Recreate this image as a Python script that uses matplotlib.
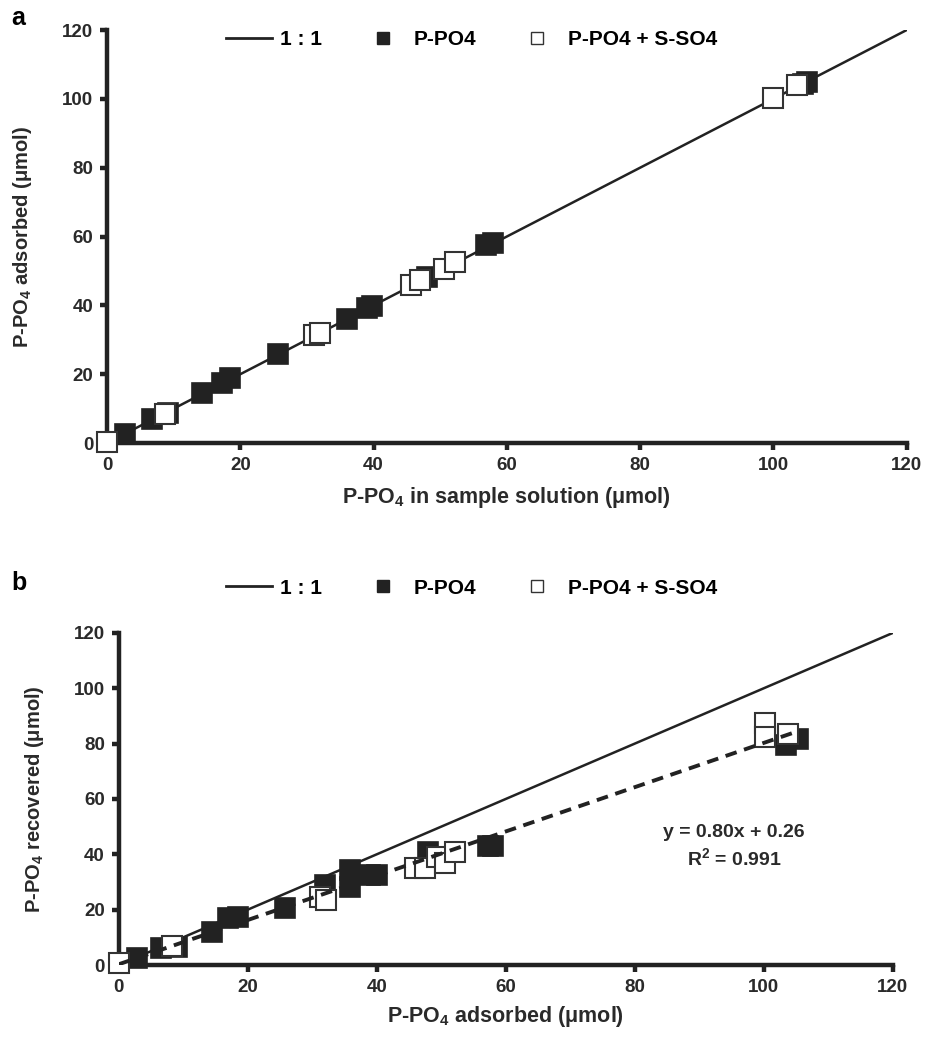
import numpy as np
import matplotlib
matplotlib.use("Agg")
import matplotlib.pyplot as plt
from matplotlib.lines import Line2D

plt.rcParams['font.family'] = ['Liberation Sans', 'DejaVu Sans']
plt.rcParams['font.weight'] = 'bold'
plt.rcParams['mathtext.fontset'] = 'custom'
plt.rcParams['mathtext.rm'] = 'Liberation Sans:bold'
plt.rcParams['mathtext.it'] = 'Liberation Sans:bold'
plt.rcParams['mathtext.bf'] = 'Liberation Sans:bold'

# ── Panel a: P-PO4 adsorbed vs P-PO4 in sample solution ──────
a_po4_x = [2.7, 6.7, 9.2, 14.2, 17.2, 18.5, 25.7, 36.0, 39.0, 39.7, 48.0, 56.8, 57.9, 104.5, 105.0]
a_po4_y = [2.6, 7.0, 8.8, 14.4, 17.4, 18.8, 26.0, 36.0, 39.2, 39.8, 48.2, 57.4, 58.0, 104.3, 105.0]
a_so4_x = [0.0, 8.7, 31.0, 32.0, 45.6, 47.0, 50.5, 52.2, 100.0, 103.5]
a_so4_y = [0.2, 8.5, 31.5, 32.0, 45.8, 47.4, 50.7, 52.6, 100.3, 103.9]

# ── Panel b: P-PO4 recovered vs P-PO4 adsorbed ───────────────
b_po4_x = [2.8, 6.6, 9.0, 14.4, 17.0, 18.5, 25.8, 32.0, 35.9, 35.9, 39.0, 40.0, 48.0, 57.3, 58.0, 103.5, 105.3]
b_po4_y = [2.4, 6.0, 6.5, 11.8, 16.9, 17.4, 20.5, 28.9, 34.3, 28.3, 32.5, 32.5, 40.9, 43.0, 43.0, 79.4, 81.8]
b_so4_x = [0.0, 8.2, 31.2, 32.2, 46.0, 47.5, 49.3, 50.6, 52.2, 100.2, 100.2, 103.8]
b_so4_y = [0.6, 6.9, 24.7, 23.5, 34.9, 34.9, 39.0, 36.7, 40.9, 87.3, 82.4, 83.6]

fit_slope, fit_intercept = 0.80, 0.26
fit_range = [0, 105]

dark = '#222222'
txt = '#2a2a2a'
fig = plt.figure(figsize=(9.25, 10.39), dpi=100)
ax_a = fig.add_axes([0.1157, 0.5736, 0.8645, 0.3975])
ax_b = fig.add_axes([0.1283, 0.0712, 0.8368, 0.3196])


def style(ax):
    for s in ['top', 'right']:
        ax.spines[s].set_visible(False)
    for s in ['left', 'bottom']:
        ax.spines[s].set_linewidth(3.2)
        ax.spines[s].set_color(dark)
    ax.set_xlim(0, 120)
    ax.set_ylim(0, 120)
    ax.set_xticks(range(0, 121, 20))
    ax.set_yticks(range(0, 121, 20))
    ax.tick_params(direction='out', length=5, width=3.2, color=dark,
                   labelsize=13.5, pad=5)
    for lab in ax.get_xticklabels() + ax.get_yticklabels():
        lab.set_fontweight('bold')
        lab.set_color(txt)


def scatter(ax, xf, yf, xo, yo):
    ax.plot(xf, yf, 's', ms=14, mfc=dark, mec=dark, mew=1.2, ls='none',
            clip_on=False, zorder=3)
    ax.plot(xo, yo, 's', ms=14, mfc='white', mec='#333333', mew=1.5, ls='none',
            clip_on=False, zorder=4)


def legend(y):
    handles = [
        Line2D([], [], color=dark, lw=2),
        Line2D([], [], marker='s', ls='none', ms=9, mfc=dark, mec=dark),
        Line2D([], [], marker='s', ls='none', ms=9, mfc='white', mec='#333333', mew=1),
    ]
    fig.legend(handles, ['1 : 1', 'P-PO4', 'P-PO4 + S-SO4'], loc='center',
               bbox_to_anchor=(0.51, y), ncol=3, frameon=False,
               columnspacing=1.8, handlelength=2.2, handletextpad=0.4,
               prop={'weight': 'bold', 'size': 15})


# panel a
style(ax_a)
ax_a.plot([0, 120], [0, 120], color=dark, lw=1.8, zorder=2)
scatter(ax_a, a_po4_x, a_po4_y, a_so4_x, a_so4_y)
ax_a.set_xlabel(r'P-PO$_4$ in sample solution (μmol)', fontsize=15.5,
                fontweight='bold', color=txt, labelpad=8)
ax_a.set_ylabel(r'P-PO$_4$ adsorbed (μmol)', fontsize=14.5,
                fontweight='bold', color=txt, labelpad=20)
legend(0.962)
fig.text(0.012, 0.983, 'a', fontsize=18, fontweight='bold', va='center')

# panel b
style(ax_b)
ax_b.plot([0, 120], [0, 120], color=dark, lw=1.8, zorder=2)
fx = np.array(fit_range)
ax_b.plot(fx, fit_slope * fx + fit_intercept, color=dark, lw=2.8,
          ls=(0, (3, 2)), zorder=5)
scatter(ax_b, b_po4_x, b_po4_y, b_so4_x, b_so4_y)
ax_b.text(95.4, 48, 'y = 0.80x + 0.26', ha='center', va='center',
          fontsize=14, fontweight='bold', color=txt)
ax_b.text(95.4, 38.6, r'R$^2$ = 0.991', ha='center', va='center',
          fontsize=14, fontweight='bold', color=txt)
ax_b.set_xlabel(r'P-PO$_4$ adsorbed (μmol)', fontsize=15.5,
                fontweight='bold', color=txt, labelpad=6)
ax_b.set_ylabel(r'P-PO$_4$ recovered (μmol)', fontsize=14.5,
                fontweight='bold', color=txt, labelpad=20)
legend(0.434)
fig.text(0.012, 0.439, 'b', fontsize=18, fontweight='bold', va='center')

fig.savefig('out.png', dpi=100)
